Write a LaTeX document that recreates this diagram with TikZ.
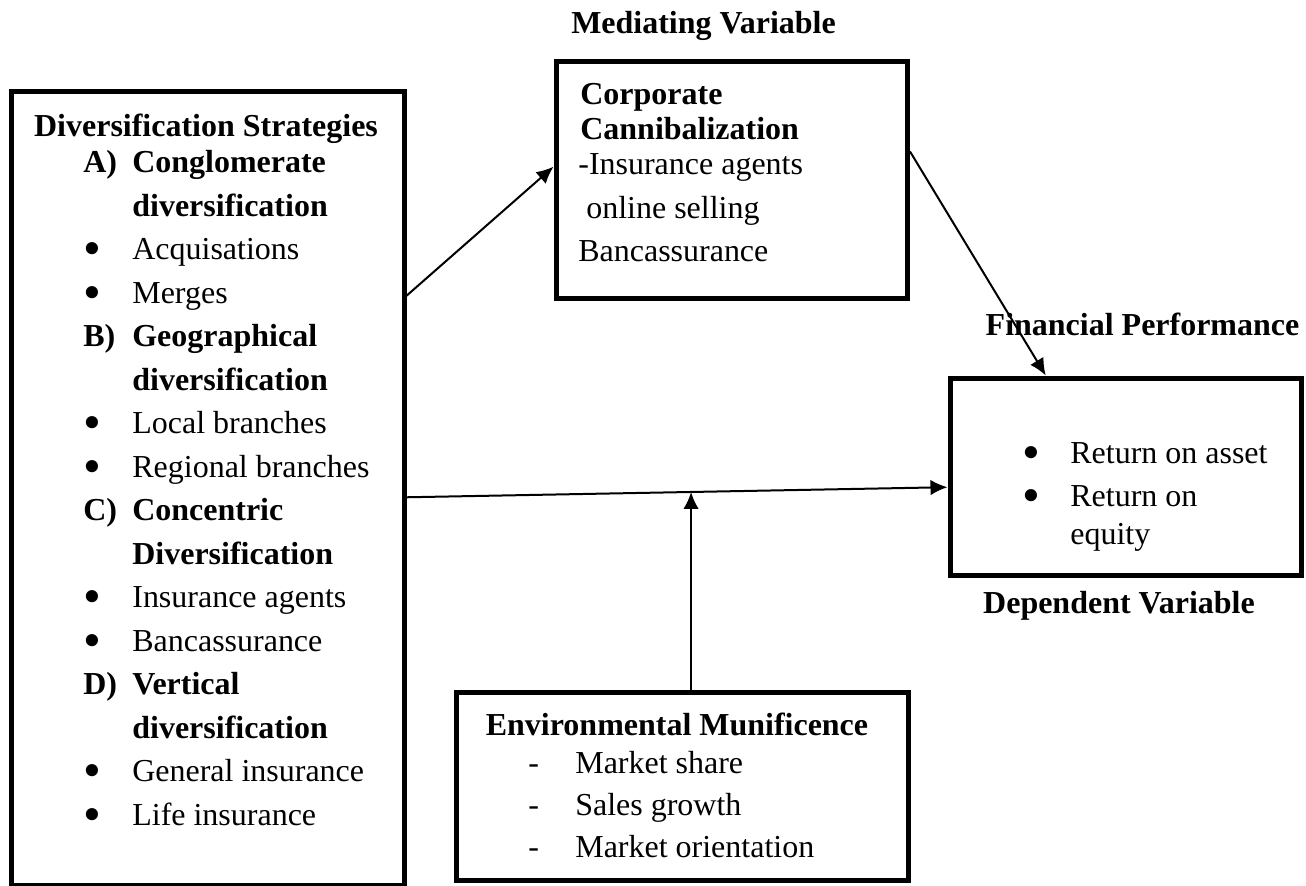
\documentclass[tikz,border=0pt]{standalone}
\usepackage{fontspec}
\setmainfont{Liberation Serif}
\usetikzlibrary{arrows.meta,calc}
\newcommand{\txtsize}{\fontsize{18.2pt}{24.75pt}\selectfont}
\newcommand{\headsize}{\fontsize{18.2pt}{19.9pt}\selectfont}
\newcommand{\envsize}{\fontsize{18.2pt}{23.9pt}\selectfont}
\newcommand{\bul}{\smash{\raisebox{-1.2mm}{\fontsize{29pt}{0pt}\selectfont\textbullet}}}

\begin{document}
\begin{tikzpicture}[x=0.2mm,y=-0.2mm,>={Latex[length=3.4mm,width=3.1mm]},
  box/.style={draw,line width=1mm,inner sep=0pt},
  txt/.style={anchor=base west,inner sep=0pt,font=\txtsize},
  lbl/.style={anchor=base,inner sep=0pt,font=\txtsize\bfseries},
  link/.style={->,line width=0.4mm}]
\useasboundingbox (0,0) rectangle (1306,886);
% boxes
\node[box,minimum width=78.4mm,minimum height=158.6mm] (strat) at (208,488.5) {};
\node[box,minimum width=70.3mm,minimum height=47.3mm] (corp) at (731.75,179.75) {};
\node[box,minimum width=70.2mm,minimum height=39.4mm] (fin) at (1125.5,476.5) {};
\node[box,minimum width=90.4mm,minimum height=37.6mm] (env) at (682,786) {};
% outside labels
\node[lbl] (medlbl) at (703.5,34) {Mediating Variable};
\node[lbl] (finlbl) at (1142.5,335) {Financial Performance};
\node[lbl] (deplbl) at (1119,613) {Dependent Variable};
% strategies
\node[lbl] (strattitle) at (206,137) {Diversification Strategies};
\node[txt] (stratlist) at (83,173) {\begin{tabular}[t]{@{}p{9.8mm}@{}l@{}}
  \textbf{A)} & \textbf{Conglomerate}\\
  & \textbf{diversification}\\
  \bul & Acquisations\\
  \bul & Merges\\
  \textbf{B)} & \textbf{Geographical}\\
  & \textbf{diversification}\\
  \bul & Local branches\\
  \bul & Regional branches\\
  \textbf{C)} & \textbf{Concentric}\\
  & \textbf{Diversification}\\
  \bul & Insurance agents\\
  \bul & Bancassurance\\
  \textbf{D)} & \textbf{Vertical}\\
  & \textbf{diversification}\\
  \bul & General insurance\\
  \bul & Life insurance
\end{tabular}};
% mediator
\node[txt,font=\headsize\bfseries] (corphead) at (580,105) {\begin{tabular}[t]{@{}l@{}}
  Corporate\\ Cannibalization\end{tabular}};
\node[txt] (corpbody) at (578,175) {\begin{tabular}[t]{@{}l@{}}
  -Insurance agents\\ \ online selling\\ Bancassurance\end{tabular}};
% performance
\node[txt] (finlist) at (1022,463) {\begin{tabular}[t]{@{}p{9.6mm}@{}l@{}}
  \bul & Return on asset\\
  \bul & Return on\\[-1mm]
  & equity
\end{tabular}};
% moderator
\node[lbl] (envtitle) at (677,735) {Environmental Munificence};
\node[txt,font=\envsize] (envlist) at (528,773) {\begin{tabular}[t]{@{}p{9.4mm}@{}l@{}}
  - & Market share\\
  - & Sales growth\\
  - & Market orientation
\end{tabular}};
% arrows
\draw[link] ($(strat.north east)!0.2585!(strat.south east)$) -- ($(corp.north west)!0.446!(corp.south west)$);
\draw[link] ($(corp.north east)!0.383!(corp.south east)$) -- ($(fin.north west)!0.276!(fin.north east)$);
\draw[link] ($(strat.north east)!0.511!(strat.south east)$) -- coordinate[pos=0.526] (moder) ($(fin.north west)!0.553!(fin.south west)$);
\draw[link] (moder |- env.north) -- (moder);
\end{tikzpicture}
\end{document}
